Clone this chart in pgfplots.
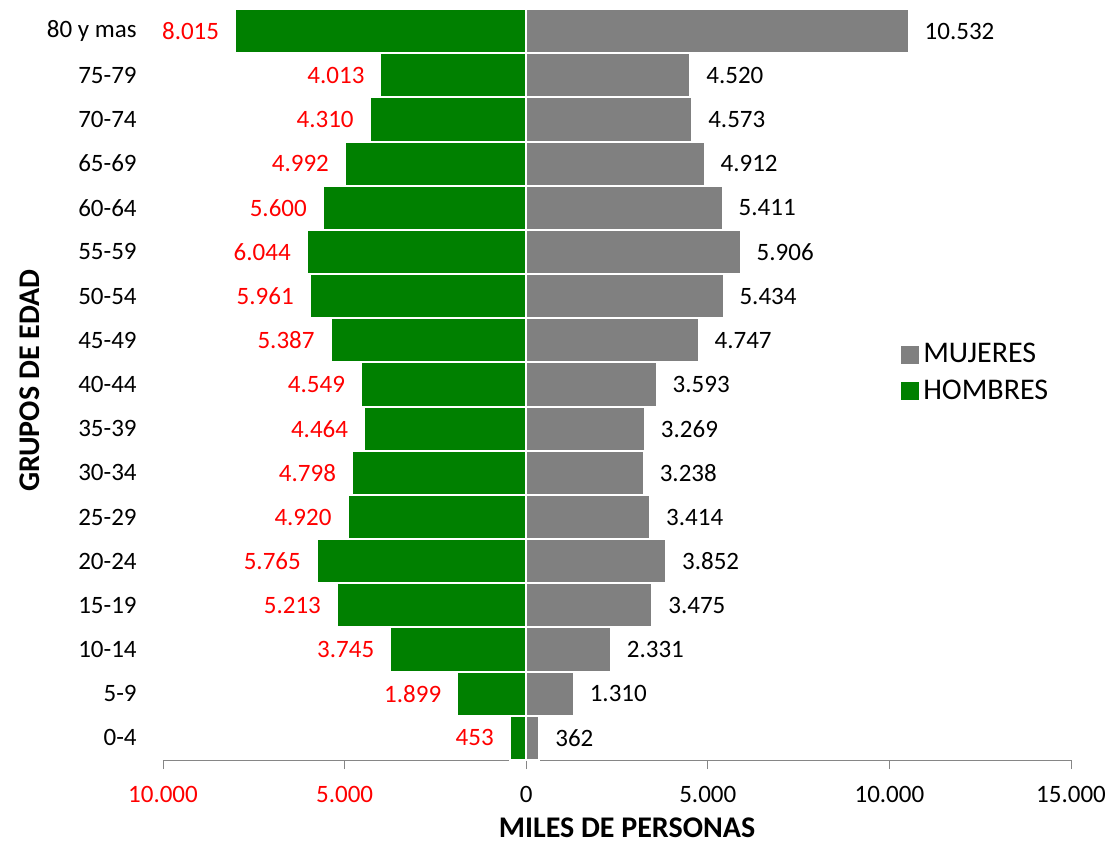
\documentclass[border=0pt]{standalone}
\usepackage{pgfplots}
\pgfplotsset{compat=1.18}
\usepackage{pgfplotstable}
\usepackage{fontspec}
\setmainfont{Carlito}
\definecolor{hgreen}{HTML}{008000}
\definecolor{mgray}{HTML}{808080}
\definecolor{axgray}{HTML}{868686}

% y = posicion del grupo de edad (0 = 0-4 ... 16 = 80 y mas), h = hombres, m = mujeres
\pgfplotstableread{
y h m
0 453 362
1 1899 1310
2 3745 2331
3 5213 3475
4 5765 3852
5 4920 3414
6 4798 3238
7 4464 3269
8 4549 3593
9 5387 4747
10 5961 5434
11 6044 5906
12 5600 5411
13 4992 4912
14 4310 4573
15 4013 4520
16 8015 10532
}\datos

\begin{document}
\begin{tikzpicture}
\begin{axis}[
  scale only axis, width=454pt, height=375.5pt,
  xbar, bar width=1, bar shift=0pt,
  xmin=-10000, xmax=15000, ymin=-0.5, ymax=16.5,
  scaled x ticks=false,
  xtick={-10000,-5000,0,5000,10000,15000},
  xticklabels={\textcolor{red}{10.000},\textcolor{red}{5.000},0,5.000,10.000,15.000},
  ytick={0,...,16},
  yticklabels={0-4,5-9,10-14,15-19,20-24,25-29,30-34,35-39,40-44,45-49,50-54,55-59,60-64,65-69,70-74,75-79,80 y mas},
  axis x line*=bottom, axis y line*=left,
  x axis line style={axgray, -},
  y axis line style={draw=none},
  tick align=outside, major tick length=4.5pt,
  xtick style={axgray, thin}, ytick style={draw=none},
  tick label style={font=\fontsize{12.5}{15}\selectfont},
  xticklabel style={inner sep=0pt, anchor=north, yshift=-8.5pt},
  yticklabel style={inner sep=0pt, anchor=east, xshift=-8.5pt},
  xlabel={\bfseries MILES DE PERSONAS},
  ylabel={\bfseries GRUPOS DE EDAD},
  label style={font=\fontsize{15}{18}\selectfont},
  xlabel style={at={(axis description cs:0.511,0)}, anchor=center, yshift=-34pt},
  ylabel style={at={(axis description cs:0,0.505)}, anchor=center, rotate=0, yshift=66.5pt},
  /pgf/number format/1000 sep={.},
  /pgf/number format/assume math mode=true,
  nodes near coords={\pgfmathprintnumber\pgfplotspointmeta},
  nodes near coords style={font=\fontsize{12.5}{15}\selectfont, inner sep=0pt},
  legend style={at={(axis description cs:0.806,0.566)}, anchor=north west,
    draw=none, fill=none, font=\fontsize{15}{18}\selectfont, row sep=3pt},
  legend cell align=left,
  legend image code/.code={\fill[#1, draw=none] (0pt,-4.5pt) rectangle (9pt,4.5pt);},
]
\draw[axgray] (axis cs:0,-0.5) -- (axis cs:0,16.6);
\addplot[fill=mgray, draw=white, line width=1pt, bar shift=0pt,
  point meta=explicit,
  every node near coord/.append style={anchor=west, xshift=7.5pt, text=black}]
  table[x=m, y=y, meta=m] {\datos};
\addplot[fill=hgreen, draw=white, line width=1pt, bar shift=0pt,
  point meta=explicit,
  every node near coord/.append style={anchor=east, xshift=-7.5pt, text=red}]
  table[x expr=-\thisrow{h}, y=y, meta=h] {\datos};
\legend{MUJERES, HOMBRES}
\end{axis}
\pgfresetboundingbox
\path[use as bounding box] ([shift={(-81.5pt,-43pt)}]current axis.south west)
  rectangle ([shift={(22.5pt,4.5pt)}]current axis.north east);
\end{tikzpicture}
\end{document}
